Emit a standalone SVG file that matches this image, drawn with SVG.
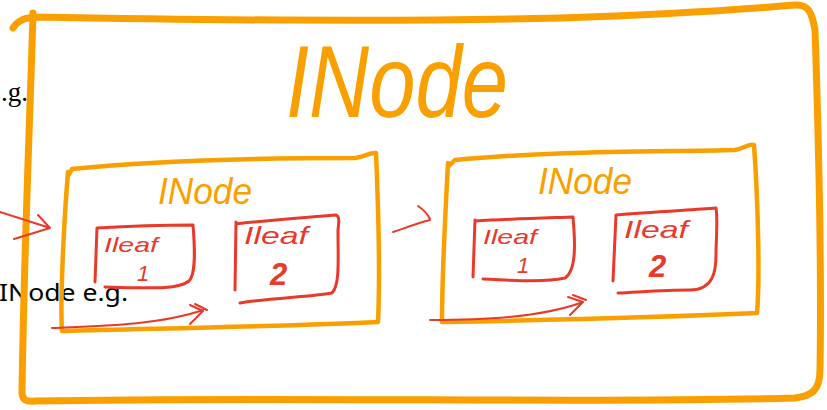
<svg xmlns="http://www.w3.org/2000/svg" width="827" height="410" viewBox="0 0 827 410">
<style>
.bg{fill:#fff}
.or{fill:none;stroke:#F9A000;stroke-linecap:round;stroke-linejoin:round}
.rd{fill:none;stroke:#E8392A;stroke-linecap:round;stroke-linejoin:round;stroke-width:3}
.ink{fill:#000}
.hand{font-family:"Liberation Sans","DejaVu Sans",sans-serif;font-style:italic}
.ot{fill:#F9A000}
.rt{fill:#E8392A}
.con{fill:none;stroke:#E8392A;stroke-width:2;stroke-linecap:round;stroke-linejoin:round}
</style>
<rect class="bg" width="827" height="410"/>
<g id="page-text">
<text class="ink" x="1" y="101" font-family="Liberation Serif,serif" font-size="27">.g.</text>
<text class="ink" x="-1" y="301" font-family="Noto Sans,sans-serif" font-size="24" textLength="129" lengthAdjust="spacingAndGlyphs">INode e.g.</text>
</g>
<g id="outer-inode">
<path class="or" stroke-width="7" d="M13,28 C18,20 25,18 35,17 C200,20 400,22 560,18 C680,14 760,8 795,5 C808,4 812,12 815,30 C818,120 822,250 820,370 C820,390 812,396 795,398 C600,404 300,396 35,401 C26,402 22,400 22,392 C24,250 30,120 33,13"/>
<text class="hand ot" x="286" y="117" font-size="102" textLength="222" lengthAdjust="spacingAndGlyphs">INode</text>
</g>
<g id="inode-1">
<path class="or" stroke-width="4.5" d="M68,176 L72,169 C150,161 250,158 355,158 C365,157 370,152 376,153 C378,200 380,280 378,322 C300,326 180,328 62,331 C60,300 64,220 68,172"/>
<text class="hand ot" x="158" y="204" font-size="36" textLength="94" lengthAdjust="spacingAndGlyphs">INode</text>
</g>
<g id="ileaf-1">
<path class="rd" d="M95,282 L97,228 M97,228 C130,226 160,225 193,225 C195,250 196,274 189,281 C178,290 150,288 105,287"/>
<text class="hand rt" x="104" y="252" font-size="21" textLength="54" lengthAdjust="spacingAndGlyphs">Ileaf</text>
<text class="hand rt" x="137" y="281" font-size="22">1</text>
</g>
<g id="ileaf-2">
<path class="rd" d="M235,290 L236,222 M236,224 C270,220 300,218 335,215 C340,215 339,222 338,230 C338,260 340,285 332,293 C310,297 270,298 240,303"/>
<text class="hand rt" x="244" y="244" font-size="24" textLength="64" lengthAdjust="spacingAndGlyphs">Ileaf</text>
<text class="hand rt" x="270" y="285" font-size="31" font-weight="bold">2</text>
</g>
<g id="inode-2">
<path class="or" stroke-width="4.5" d="M448,167 L455,160 C550,151 650,152 735,150 C745,148 750,143 754,145 C758,200 760,280 757,313 C650,318 550,320 442,322 C442,280 446,200 448,163"/>
<text class="hand ot" x="538" y="194" font-size="36" textLength="94" lengthAdjust="spacingAndGlyphs">INode</text>
</g>
<g id="ileaf-3">
<path class="rd" d="M473,277 L475,220 M475,221 C510,219 545,218 573,217 C575,240 577,270 565,278 C540,283 510,280 483,279"/>
<text class="hand rt" x="483" y="244" font-size="21" textLength="54" lengthAdjust="spacingAndGlyphs">Ileaf</text>
<text class="hand rt" x="517" y="273" font-size="22">1</text>
</g>
<g id="ileaf-4">
<path class="rd" d="M613,281 L616,215 M616,215 C650,212 690,210 716,208 C718,220 716,240 716,255 C716,270 714,290 690,290 C665,290 640,292 618,293"/>
<text class="hand rt" x="624" y="238" font-size="24" textLength="64" lengthAdjust="spacingAndGlyphs">Ileaf</text>
<text class="hand rt" x="649" y="277" font-size="31" font-weight="bold">2</text>
</g>
<g id="connectors">
<path class="con" d="M0,212 L50,228 M38,215 L50,228 L14,239"/>
<path class="con" d="M393,232 C405,228 415,224 430,220 M418,206 C424,210 428,215 430,219"/>
<path class="con" d="M52,328 C100,326 160,325 203,310 M190,305 L203,311 L190,324 M195,304 L207,310"/>
<path class="con" d="M430,320 C480,320 540,318 583,302 M568,297 L583,302 L570,315 M573,295 L586,300"/>
</g>
</svg>
